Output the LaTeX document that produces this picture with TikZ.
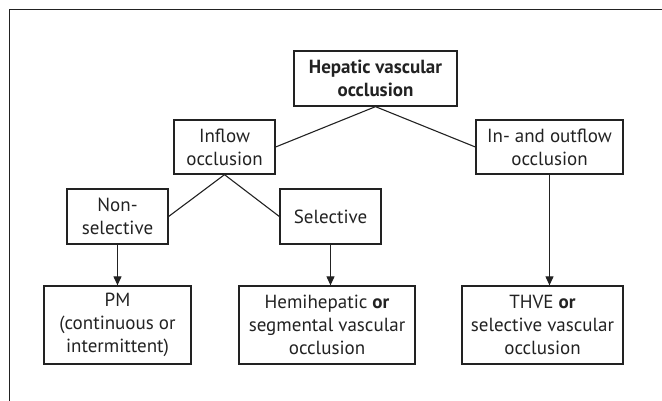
\documentclass[tikz,border=0pt]{standalone}
\usepackage{fontspec}
\setmainfont{PT Sans}
\usetikzlibrary{arrows.meta}
\definecolor{ink}{HTML}{222222}
\begin{document}
\begin{tikzpicture}[x=1pt,y=-1pt,
  box/.style={draw=ink,line width=1.3pt,text=ink,align=center,inner sep=0pt,
    font=\fontsize{19}{23}\selectfont},
  link/.style={draw=ink,line width=1.1pt},
  arr/.style={link,-{Triangle[length=9pt,width=8pt]}}]
\useasboundingbox (0,0) rectangle (662,401);
\draw[ink,line width=1.4pt] (9.5,401) -- (9.5,9.5) -- (662,9.5);
\node[box,minimum width=163pt,minimum height=55pt] (hep) at (375.5,78.5) {\bfseries Hepatic vascular\\\bfseries occlusion};
\node[box,minimum width=101pt,minimum height=54pt] (inflow) at (224.5,147) {Inflow\\occlusion};
\node[box,minimum width=147pt,minimum height=54pt] (inout) at (549.5,147) {In- and outflow\\occlusion};
\node[box,minimum width=101pt,minimum height=55pt] (nonsel) at (117.5,216.5) {Non-\\selective};
\node[box,minimum width=101pt,minimum height=55pt] (sel) at (330.5,216.5) {Selective};
\node[box,minimum width=147pt,minimum height=78pt] (pm) at (117.5,325) {PM\\(continuous or\\intermittent)};
\node[box,minimum width=176pt,minimum height=78pt] (hemi) at (327,325) {Hemihepatic \textbf{or}\\segmental vascular\\occlusion};
\node[box,minimum width=161pt,minimum height=78pt] (thve) at (542.5,325) {THVE \textbf{or}\\selective vascular\\occlusion};
\draw[link] (inflow.east) -- (hep.south) -- (inout.west);
\draw[link] (nonsel.east) -- (inflow.south) -- (sel.west);
\draw[arr] (nonsel.south) -- (nonsel.south |- pm.north);
\draw[arr] (sel.south) -- (sel.south |- hemi.north);
\draw[arr] (inout.south) -- (inout.south |- thve.north);
\end{tikzpicture}
\end{document}
